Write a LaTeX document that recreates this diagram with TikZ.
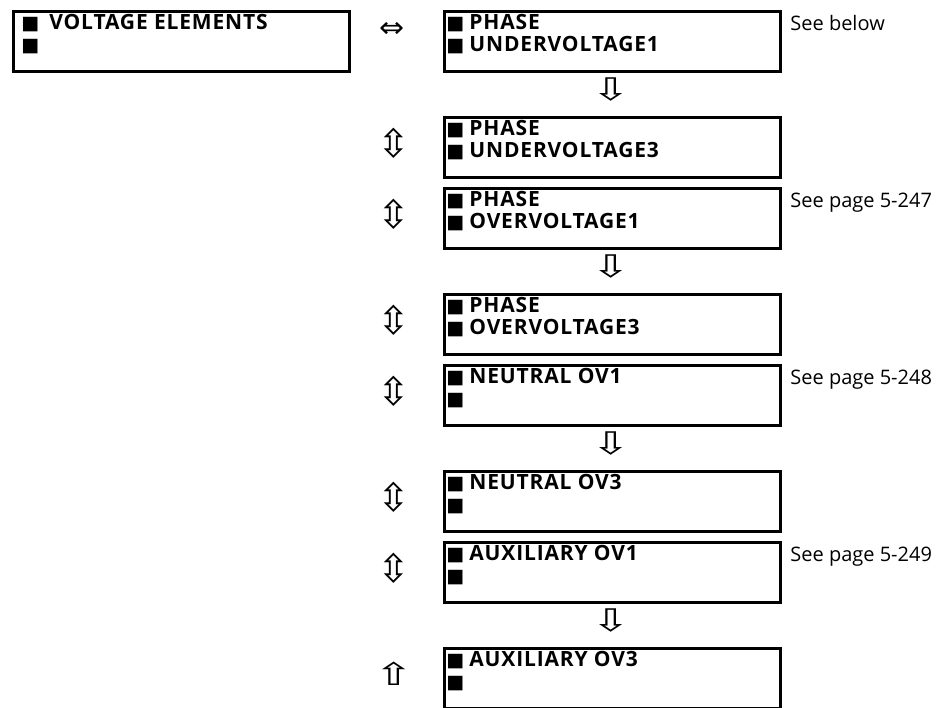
\documentclass[tikz,border=0pt]{standalone}
\usepackage{fontspec}
\setmainfont{Open Sans}
\newfontfamily\menufont{Open Sans}[LetterSpace=4]
\newfontfamily\symfont{DejaVu Sans}
\usetikzlibrary{positioning}
\newcommand{\sqb}[1][11.5pt]{\makebox[#1][l]{\symfont\fontsize{9.5}{9.5}\selectfont ■}}
\newcommand{\navglyph}[3]{\scalebox{#1}[#2]{#3}}

\begin{document}
\begin{tikzpicture}[x=0.5pt,y=-0.5pt,
  menubox/.style={draw, line width=1.5pt, minimum width=168pt, minimum height=30pt, inner sep=0pt, anchor=north west},
  menutext/.style={anchor=base west, inner sep=0pt, align=left, font=\menufont\bfseries\fontsize{10.5}{10.75}\selectfont},
  seetext/.style={anchor=base west, inner sep=0pt, font=\fontsize{10}{12}\selectfont},
  navarrow/.style={inner sep=0pt, font=\symfont\fontsize{13}{13}\selectfont}]
\useasboundingbox (0,0) rectangle (942,707);
\node[menubox] (volt) at (12,10) {};
\node[menutext] (voltt) at (21,51) {\sqb[14pt]VOLTAGE ELEMENTS\\\sqb[14pt]};
\node[navarrow] (lr) at (392,30) {\navglyph{1.15}{1.1}{⇔}};
\node[menubox] (puv1) at (443,10) {};
\node[menutext] (puv1t) at (446,51) {\sqb PHASE\\\sqb UNDERVOLTAGE1};
\node[seetext] (see1) at (790,30) {See below};
\node[navarrow] (dn1) at (611,90) {\navglyph{1.8}{1.2}{⇩}};
\node[menubox] (puv3) at (443,116) {};
\node[menutext] (puv3t) at (446,157) {\sqb PHASE\\\sqb UNDERVOLTAGE3};
\node[navarrow] (ud1) at (394,143) {\navglyph{1.5}{1.5}{⇳}};
\node[menubox] (pov1) at (443,187) {};
\node[menutext] (pov1t) at (446,228) {\sqb PHASE\\\sqb OVERVOLTAGE1};
\node[navarrow] (ud2) at (394,214) {\navglyph{1.5}{1.5}{⇳}};
\node[seetext] (see2) at (790,207) {See page 5-247};
\node[navarrow] (dn2) at (611,267) {\navglyph{1.8}{1.2}{⇩}};
\node[menubox] (pov3) at (443,293) {};
\node[menutext] (pov3t) at (446,334) {\sqb PHASE\\\sqb OVERVOLTAGE3};
\node[navarrow] (ud3) at (394,320) {\navglyph{1.5}{1.5}{⇳}};
\node[menubox] (nov1) at (443,364) {};
\node[menutext] (nov1t) at (446,405) {\sqb NEUTRAL OV1\\\sqb};
\node[navarrow] (ud4) at (394,391) {\navglyph{1.5}{1.5}{⇳}};
\node[seetext] (see3) at (790,384) {See page 5-248};
\node[navarrow] (dn3) at (611,444) {\navglyph{1.8}{1.2}{⇩}};
\node[menubox] (nov3) at (443,470) {};
\node[menutext] (nov3t) at (446,511) {\sqb NEUTRAL OV3\\\sqb};
\node[navarrow] (ud5) at (394,497) {\navglyph{1.5}{1.5}{⇳}};
\node[menubox] (aov1) at (443,541) {};
\node[menutext] (aov1t) at (446,582) {\sqb AUXILIARY OV1\\\sqb};
\node[navarrow] (ud6) at (394,568) {\navglyph{1.5}{1.5}{⇳}};
\node[seetext] (see4) at (790,561) {See page 5-249};
\node[navarrow] (dn4) at (611,621) {\navglyph{1.8}{1.2}{⇩}};
\node[menubox] (aov3) at (443,647) {};
\node[menutext] (aov3t) at (446,688) {\sqb AUXILIARY OV3\\\sqb};
\node[navarrow] (up1) at (394,674) {\navglyph{1.8}{1.2}{⇧}};
\end{tikzpicture}
\end{document}
